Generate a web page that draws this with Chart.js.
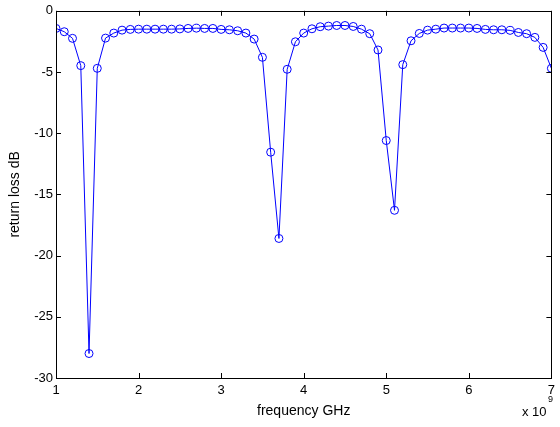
<!DOCTYPE html>
<html><head><meta charset="utf-8">
<script src="https://cdn.jsdelivr.net/npm/chart.js@4"></script>
<style>html,body{margin:0;padding:0;background:#fff}#wrap{width:560px;height:427px}</style>
</head><body><div id="wrap"><canvas id="c" width="560" height="427"></canvas></div>
<script>
const freqGHz = [1.0,1.1,1.2,1.3,1.4,1.5,1.6,1.7,1.8,1.9,2.0,2.1,2.2,2.3,2.4,2.5,2.6,2.7,2.8,2.9,3.0,3.1,3.2,3.3,3.4,3.5,3.6,3.7,3.8,3.9,4.0,4.1,4.2,4.3,4.4,4.5,4.6,4.7,4.8,4.9,5.0,5.1,5.2,5.3,5.4,5.5,5.6,5.7,5.8,5.9,6.0,6.1,6.2,6.3,6.4,6.5,6.6,6.7,6.8,6.9,7.0];
const returnLossDB = [-1.44,-1.71,-2.25,-4.48,-28.0,-4.7,-2.23,-1.82,-1.58,-1.52,-1.5,-1.5,-1.5,-1.5,-1.5,-1.48,-1.44,-1.42,-1.44,-1.44,-1.52,-1.55,-1.63,-1.82,-2.31,-3.8,-11.55,-18.6,-4.78,-2.53,-1.82,-1.47,-1.30,-1.25,-1.2,-1.2,-1.28,-1.5,-1.87,-3.2,-10.6,-16.3,-4.4,-2.45,-1.85,-1.58,-1.5,-1.41,-1.41,-1.41,-1.41,-1.44,-1.52,-1.55,-1.55,-1.6,-1.77,-1.87,-2.17,-2.99,-4.7];
const xTicks = [1,2,3,4,5,6,7];
const yTicks = [0,-5,-10,-15,-20,-25,-30];
const xLabel = 'frequency GHz';
const yLabel = 'return loss dB';
const xExponent = '9';

const FONT = "'Liberation Sans', Arial, sans-serif";

const framePlugin = {
  id: 'frame',
  afterDraw(chart) {
    const ctx = chart.ctx, a = chart.chartArea;
    const xs = chart.scales.x, ys = chart.scales.y;
    ctx.save();
    ctx.strokeStyle = '#000';
    ctx.lineWidth = 1;
    ctx.strokeRect(Math.round(a.left)+0.5, Math.round(a.top)+0.5, Math.round(a.right-a.left), Math.round(a.bottom-a.top));
    ctx.beginPath();
    const tl = 5;
    xTicks.forEach(v => {
      const px = Math.round(xs.getPixelForValue(v)) + 0.5;
      ctx.moveTo(px, a.bottom); ctx.lineTo(px, a.bottom - tl);
      ctx.moveTo(px, a.top); ctx.lineTo(px, a.top + tl);
    });
    yTicks.forEach(v => {
      const py = Math.round(ys.getPixelForValue(v)) + 0.5;
      ctx.moveTo(a.left, py); ctx.lineTo(a.left + tl, py);
      ctx.moveTo(a.right, py); ctx.lineTo(a.right - tl, py);
    });
    ctx.stroke();
    // exponent label
    ctx.fillStyle = '#000';
    ctx.font = '13px ' + FONT;
    ctx.textBaseline = 'alphabetic';
    ctx.textAlign = 'left';
    ctx.fillText('x 10', 522, 416);
    ctx.font = '9px ' + FONT;
    ctx.fillText(xExponent, 548, 402);
    ctx.restore();
  }
};

new Chart(document.getElementById('c'), {
  type: 'line',
  data: {
    datasets: [{
      data: freqGHz.map((f, i) => ({x: f, y: returnLossDB[i]})),
      borderColor: '#0000ff',
      borderWidth: 1,
      pointStyle: 'circle',
      pointRadius: 4,
      pointBorderColor: '#0000ff',
      pointBackgroundColor: 'rgba(0,0,0,0)',
      pointBorderWidth: 1,
      tension: 0,
      fill: false
    }]
  },
  plugins: [framePlugin],
  options: {
    responsive: false,
    animation: false,
    devicePixelRatio: 1,
    layout: { padding: { top: 10, right: 7, left: 0, bottom: 0 } },
    plugins: { legend: { display: false }, tooltip: { enabled: false } },
    scales: {
      x: {
        type: 'linear', min: 1, max: 7,
        afterBuildTicks: s => { s.ticks = xTicks.map(v => ({value: v})); },
        afterFit: s => { s.height = 49; },
        grid: { display: false, drawTicks: false },
        border: { display: false },
        ticks: { color: '#000', font: { family: FONT, size: 13 }, padding: 5, maxRotation: 0 },
        title: { display: true, text: xLabel, color: '#000', font: { family: FONT, size: 14 }, padding: { top: 0, bottom: 7 } }
      },
      y: {
        type: 'linear', min: -30, max: 0,
        afterBuildTicks: s => { s.ticks = yTicks.map(v => ({value: v})); },
        afterFit: s => { s.width = 56; },
        grid: { display: false, drawTicks: false },
        border: { display: false },
        ticks: { color: '#000', font: { family: FONT, size: 13 }, padding: 3 },
        title: { display: true, text: yLabel, color: '#000', font: { family: FONT, size: 14 }, padding: { bottom: 0, top: 7 } }
      }
    }
  }
});
</script></body></html>
